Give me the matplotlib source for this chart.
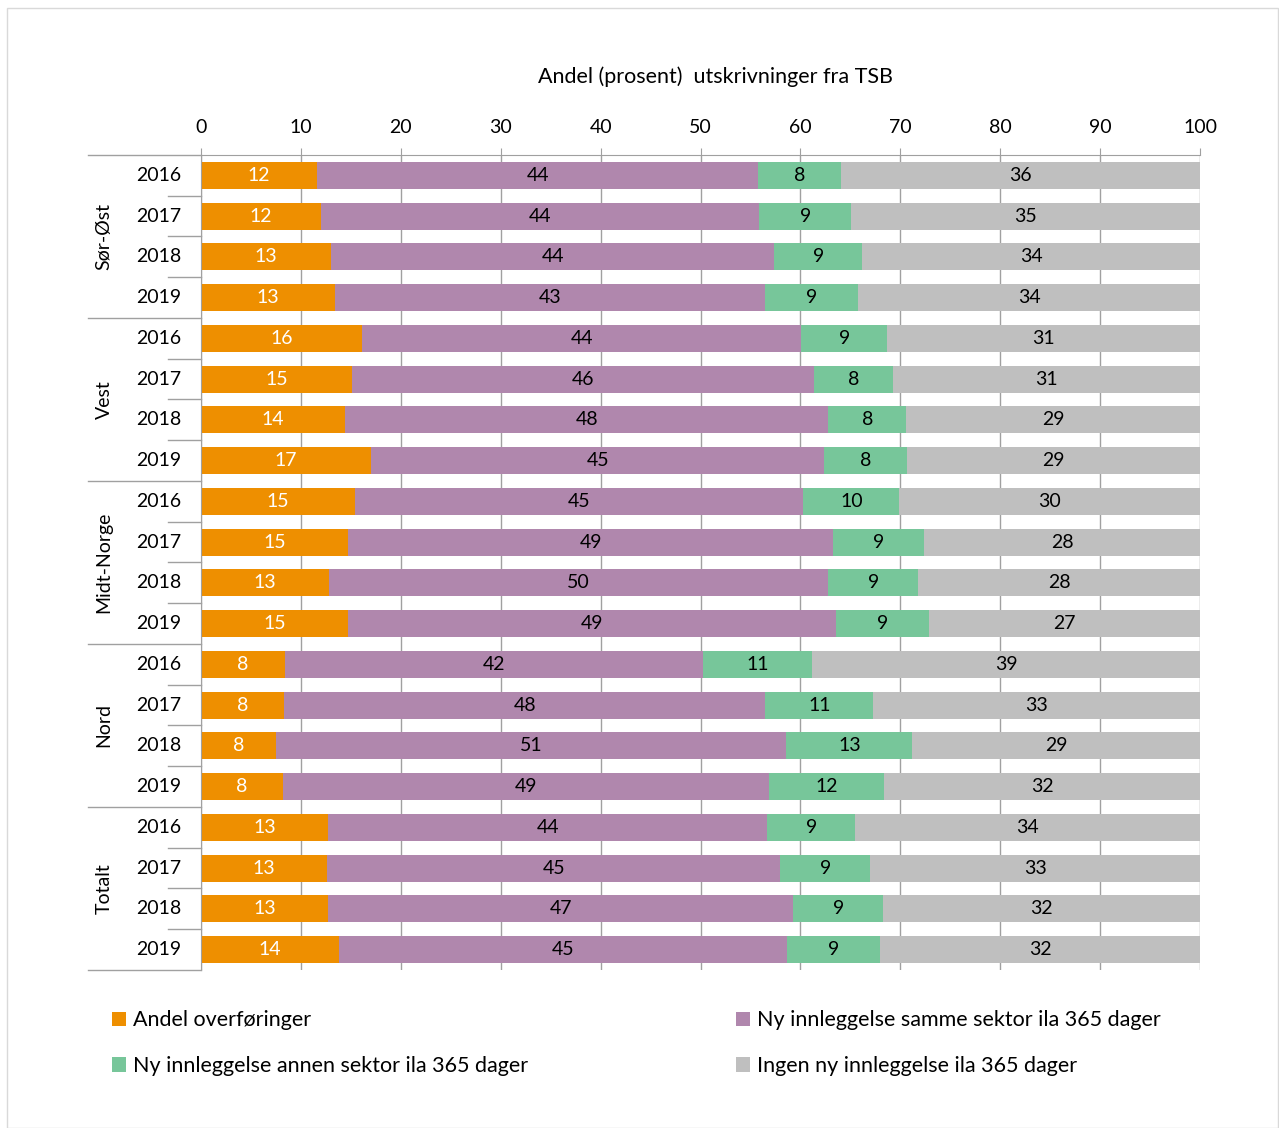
import matplotlib
matplotlib.use("Agg")
import matplotlib.pyplot as plt
import matplotlib.transforms as mtransforms
from matplotlib.patches import Patch, Rectangle
import numpy as np

plt.rcParams['font.family'] = ['Lato', 'DejaVu Sans']

regions = ['Sør-Øst', 'Vest', 'Midt-Norge', 'Nord', 'Totalt']
years = ['2016', '2017', '2018', '2019']

# andel per rad, fra topp til bunn (region x år)
overforing = [11.6, 12.0, 13.0, 13.4,
              16.1, 15.1, 14.4, 17.0,
              15.4, 14.7, 12.8, 14.7,
              8.4, 8.3, 7.5, 8.2,
              12.7, 12.6, 12.7, 13.8]
samme = [44.2, 43.9, 44.4, 43.1,
         44.0, 46.3, 48.4, 45.4,
         44.9, 48.6, 50.0, 48.9,
         41.9, 48.2, 51.1, 48.7,
         44.0, 45.4, 46.6, 44.9]
annen = [8.3, 9.2, 8.8, 9.3,
         8.6, 7.9, 7.8, 8.3,
         9.6, 9.1, 9.0, 9.3,
         10.9, 10.8, 12.6, 11.5,
         8.8, 9.0, 9.0, 9.3]
ingen = [35.9, 34.9, 33.8, 34.2,
         31.3, 30.7, 29.4, 29.3,
         30.1, 27.6, 28.2, 27.1,
         38.8, 32.7, 28.8, 31.6,
         34.5, 33.0, 31.7, 32.0]

series = [
    ('Andel overføringer', overforing, '#EE8F00', 'white'),
    ('Ny innleggelse samme sektor ila 365 dager', samme, '#B087AD', 'black'),
    ('Ny innleggelse annen sektor ila 365 dager', annen, '#77C69A', 'black'),
    ('Ingen ny innleggelse ila 365 dager', ingen, '#BFBFBF', 'black'),
]

fig = plt.figure(figsize=(12.79, 11.28), dpi=100)
fig.patches.append(Rectangle((7/1279, 0), 1 - 8/1279, 1 - 8/1128,
                             transform=fig.transFigure, fill=False,
                             edgecolor='#D9D9D9', lw=1))
ax = fig.add_axes([201/1279, 1 - 970/1128, 999/1279, 815/1128])

n = len(overforing)
y = np.arange(n)
left = np.zeros(n)
handles = {}
for name, vals, col, tcol in series:
    vals = np.array(vals)
    bars = ax.barh(y, vals, left=left, height=0.66, color=col, zorder=2)
    ax.bar_label(bars, labels=[str(int(round(v))) for v in vals],
                 label_type='center', color=tcol, fontsize=14)
    left += vals
    handles[name] = Patch(facecolor=col)

ax.set_xlim(0, 100)
ax.set_ylim(n - 0.5, -0.5)
ax.xaxis.tick_top()
ax.set_xticks(range(0, 101, 10))
ax.tick_params(axis='x', length=5, color='#A0A0A0', labelsize=14, pad=9)
ax.set_yticks([])
ax.grid(axis='x', color='#A0A0A0', lw=1, zorder=0)
for s in ['right', 'bottom']:
    ax.spines[s].set_visible(False)
ax.spines['left'].set_color('#A0A0A0')
ax.spines['top'].set_color('#A0A0A0')

trans = mtransforms.blended_transform_factory(ax.transAxes, ax.transData)
for i in range(n):
    ax.text(-0.02, i, years[i % 4], transform=trans, ha='right', va='center',
            fontsize=14)
for k in range(n + 1):
    b = k - 0.5
    x0 = -0.113 if k % 4 == 0 else -0.033
    ax.plot([x0, 0], [b, b], transform=trans, color='#A0A0A0', lw=1,
            clip_on=False)
for g, reg in enumerate(regions):
    ax.text(-0.097, g * 4 + 1.5, reg, transform=trans, rotation=90,
            ha='center', va='center', fontsize=14)

fig.text(716/1279, 1 - 77/1128, 'Andel (prosent)  utskrivninger fra TSB',
         ha='center', va='center', fontsize=15.5)

names = [s[0] for s in series]
leg1 = fig.legend([handles[names[0]], handles[names[2]]], [names[0], names[2]],
                  loc='upper left', bbox_to_anchor=(93/1279, 1 - 991/1128),
                  frameon=False, fontsize=15.5, handlelength=0.65, handleheight=0.65,
                  handletextpad=0.3, labelspacing=1.2)
leg2 = fig.legend([handles[names[1]], handles[names[3]]], [names[1], names[3]],
                  loc='upper left', bbox_to_anchor=(717/1279, 1 - 991/1128),
                  frameon=False, fontsize=15.5, handlelength=0.65, handleheight=0.65,
                  handletextpad=0.3, labelspacing=1.2)

fig.savefig('out.png', dpi=100)
